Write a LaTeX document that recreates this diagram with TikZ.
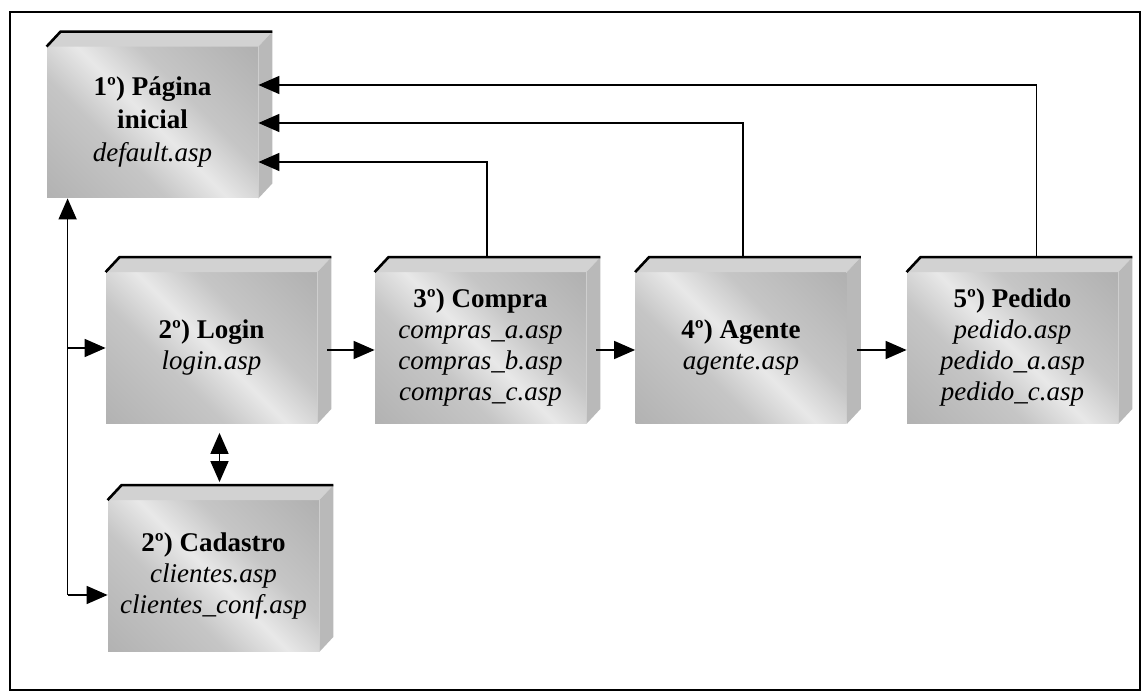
\documentclass[tikz,border=0pt]{standalone}
\usepackage{fontspec}
\setmainfont{Liberation Serif}
\usetikzlibrary{positioning, arrows.meta, calc}
\pgfdeclarehorizontalshading{blocoshade}{100bp}{color(0bp)=(gray!70); color(38bp)=(gray!45); color(50bp)=(gray!18); color(62bp)=(gray!45); color(100bp)=(gray!72)}
\tikzset{
  bloco/.style={shade, shading=blocoshade, shading angle=45, minimum width=105.5pt, minimum height=75.5pt,
    inner sep=0pt, align=center, font=\fontsize{13.5}{15.5}\selectfont},
  topo/.style={fill=gray!35},
  lado/.style={fill=gray!55},
  seta/.style={-{Triangle[length=10.5pt,width=9pt]}, line width=0.8pt},
  seta2/.style={{Triangle[length=10.5pt,width=9pt]}-{Triangle[length=10.5pt,width=9pt]}, line width=0.8pt}
}
\begin{document}
\begin{tikzpicture}[x=0.5pt, y=-0.5pt]
  \useasboundingbox (0,0) rectangle (1148,694);
  \draw[line width=1pt] (10,12) rectangle (1140,690);

  % blocos
  \node[bloco, font=\fontsize{13.5}{16.5}\selectfont] (inicial) at (152.5,122.5) {\textbf{1º) Página}\\\textbf{inicial}\\\textit{default.asp}};
  \node[bloco] (login) at (211.5,348) {\textbf{2º) Login}\\\textit{login.asp}};
  \node[bloco] (compra) at (480.5,348) {\textbf{3º) Compra}\\\textit{compras\_a.asp}\\\textit{compras\_b.asp}\\\textit{compras\_c.asp}};
  \node[bloco] (agente) at (741,348) {\textbf{4º) Agente}\\\textit{agente.asp}};
  \node[bloco] (pedido) at (1012.5,348) {\textbf{5º) Pedido}\\\textit{pedido.asp}\\\textit{pedido\_a.asp}\\\textit{pedido\_c.asp}};
  \node[bloco] (cadastro) at (213.5,576) {\textbf{2º) Cadastro}\\\textit{clientes.asp}\\\textit{clientes\_conf.asp}};

  % faces de cima e do lado
  \foreach \n in {inicial,login,compra,agente,pedido,cadastro}{
    \fill[topo] (\n.north west) -- ++(14,-15) -- ($(\n.north east)+(14,-15)$) -- (\n.north east) -- cycle;
    \fill[lado] (\n.north east) -- ++(14,-15) -- ($(\n.south east)+(14,-15)$) -- (\n.south east) -- cycle;
    \draw[line width=1.3pt] (\n.north west) -- ++(14,-15) -- ($(\n.north east)+(14,-15)$);
  }

  % retornos para a pagina inicial
  \draw[seta] ([xshift=12pt,yshift=7.5pt]pedido.north) |- ([yshift=18.75pt]inicial.east);
  \draw[seta] ([xshift=1pt,yshift=7.5pt]agente.north) |- ([yshift=-0.25pt]inicial.east);
  \draw[seta] ([xshift=3.25pt,yshift=7.5pt]compra.north) |- ([yshift=-19.75pt]inicial.east);

  % fluxo principal
  \draw[seta] ([xshift=5pt,yshift=-1pt]login.east) -- ([yshift=-1pt]compra.west);
  \draw[seta] ([xshift=5pt,yshift=-1pt]compra.east) -- ([yshift=-1pt]agente.west);
  \draw[seta] ([xshift=5pt,yshift=-1pt]agente.east) -- ([yshift=-1pt]pedido.west);
  \draw[seta2] ([xshift=4pt,yshift=-4.5pt]login.south) -- ([xshift=3pt,yshift=9pt]cadastro.north);

  % barramento da esquerda
  \coordinate (bus) at ([xshift=-20pt,yshift=-9.5pt]cadastro.west);
  \draw[seta] (bus) -- (bus |- inicial.south);
  \draw[seta] (bus) -- ([yshift=-9.5pt]cadastro.west);
  \draw[seta] (bus |- login.west) -- (login.west);
\end{tikzpicture}
\end{document}
